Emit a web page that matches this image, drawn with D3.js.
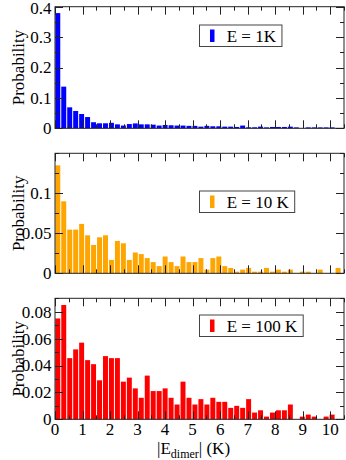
<!DOCTYPE html>
<html>
<head>
<meta charset="utf-8">
<script src="https://cdn.jsdelivr.net/npm/d3@7"></script>
<style>
  body { margin: 0; background: #fff; }
  text { font-family: "Liberation Serif", "Times New Roman", serif; fill: #000; }
</style>
</head>
<body>
<svg id="chart" width="346" height="460"></svg>
<script>
// histogram bins of |E_dimer| (K), 48 bins from 0
const binWidth = 10.4 / 48;

const probE1 = [0.379, 0.137, 0.069, 0.057, 0.047, 0.037, 0.020, 0.0165, 0.0165, 0.018,
  0.013, 0.009, 0.014, 0.016, 0.013, 0.013, 0.012, 0.009, 0.011, 0.010,
  0.009, 0.009, 0.008, 0.008, 0.0055, 0.008, 0.0066, 0.0066, 0.0055, 0.0055,
  0.0044, 0.009, 0.0033, 0.0033, 0.0055, 0.003, 0.0044, 0.0044, 0.0044, 0.0055,
  0.003, 0, 0.003, 0.003, 0.003, 0.003, 0.003, 0];

const probE10 = [0.135, 0.090, 0.0546, 0.0546, 0.0617, 0.0475, 0.0354, 0.045, 0.0475, 0.0167,
  0.0404, 0.0375, 0.0167, 0.026, 0.024, 0.019, 0.014, 0.009, 0.021, 0.014,
  0.009, 0.021, 0.014, 0.014, 0.019, 0.0046, 0.019, 0.021, 0.009, 0.0067,
  0.002, 0.0046, 0.0067, 0.002, 0.002, 0.0067, 0.002, 0.0046, 0.002, 0.0046,
  0, 0.002, 0.002, 0, 0.0046, 0, 0, 0.0067];

const probE100 = [0.075, 0.085, 0.0455, 0.052, 0.057, 0.044, 0.041, 0.029, 0.047, 0.0455,
  0.0455, 0.028, 0.031, 0.023, 0.016, 0.0325, 0.021, 0.021, 0.023, 0.016,
  0.011, 0.028, 0.016, 0.011, 0.015, 0.011, 0.016, 0.013, 0.013, 0.0085,
  0.010, 0.0085, 0.015, 0.005, 0.0067, 0.002, 0.005, 0.0067, 0.0067, 0.011,
  0, 0.002, 0.0035, 0.002, 0, 0.002, 0.0035, 0];

const xTicks = [0, 1, 2, 3, 4, 5, 6, 7, 8, 9, 10];
const yTicksE1 = [0, 0.1, 0.2, 0.3, 0.4];
const yTicksE10 = [0, 0.05, 0.1];
const yTicksE100 = [0, 0.02, 0.04, 0.06, 0.08];
const legendLabels = ["E = 1K", "E = 10 K", "E = 100 K"];

const panels = [
  { data: probE1, color: "#0000ff", yMax: 0.4, ticks: yTicksE1, minor: 0.05, top: 6.7, bottom: 128.3, legendY: 25, label: legendLabels[0] },
  { data: probE10, color: "#ffa500", yMax: 0.15, ticks: yTicksE10, minor: 0.025, top: 153.3, bottom: 273.3, legendY: 191, label: legendLabels[1] },
  { data: probE100, color: "#ff0000", yMax: 0.09, ticks: yTicksE100, minor: 0.01, top: 298.3, bottom: 419.3, legendY: 315, label: legendLabels[2] }
];

const left = 55, right = 344;
const svg = d3.select("#chart");
const x = d3.scaleLinear().domain([0, 10.5]).range([left, right]);
const xMinor = d3.range(0, 10.51, 0.5);
const fmt = v => v === 0 ? "0" : String(+v.toFixed(3));

panels.forEach((p, k) => {
  const y = d3.scaleLinear().domain([0, p.yMax]).range([p.bottom, p.top]);
  const g = svg.append("g");

  // bars
  g.selectAll("rect.bar")
    .data(p.data)
    .join("rect")
    .attr("class", "bar")
    .attr("x", (d, i) => x(i * binWidth) + 0.3)
    .attr("width", (d, i) => x((i + 1) * binWidth) - x(i * binWidth) - 1)
    .attr("y", d => y(d))
    .attr("height", d => p.bottom - y(d))
    .attr("fill", p.color);

  // ticks, all inward on four sides
  const yMinor = d3.range(0, p.yMax + 1e-9, p.minor);
  const isMajorX = v => Math.abs(v - Math.round(v)) < 1e-6;
  const isMajorY = v => p.ticks.some(t => Math.abs(t - v) < 1e-9);
  const tk = g.append("g").attr("stroke", "#222").attr("stroke-width", 1);
  xMinor.forEach(v => {
    const len = isMajorX(v) ? 8 : 4;
    const xx = Math.round(x(v)) + 0.5;
    tk.append("line").attr("x1", xx).attr("x2", xx).attr("y1", p.bottom).attr("y2", p.bottom - len);
    tk.append("line").attr("x1", xx).attr("x2", xx).attr("y1", p.top).attr("y2", p.top + len);
  });
  yMinor.forEach(v => {
    const len = isMajorY(v) ? 8 : 4;
    const yy = Math.round(y(v)) + 0.5;
    tk.append("line").attr("x1", left).attr("x2", left + len).attr("y1", yy).attr("y2", yy);
    tk.append("line").attr("x1", right).attr("x2", right - len).attr("y1", yy).attr("y2", yy);
  });

  // frame
  g.append("rect")
    .attr("x", left).attr("y", p.top)
    .attr("width", right - left).attr("height", p.bottom - p.top)
    .attr("fill", "none").attr("stroke", "#222").attr("stroke-width", 1);

  // y tick labels
  g.selectAll("text.ytl")
    .data(p.ticks)
    .join("text")
    .attr("class", "ytl")
    .attr("x", 51.5)
    .attr("y", d => Math.max(y(d), 8))
    .attr("dy", "0.35em")
    .attr("text-anchor", "end")
    .attr("font-size", 17)
    .text(fmt);

  // y axis title
  g.append("text")
    .attr("transform", `translate(24,${(p.top + p.bottom) / 2}) rotate(-90)`)
    .attr("text-anchor", "middle")
    .attr("font-size", 17)
    .text("Probability");

  // legend
  const lg = g.append("g");
  const box = lg.append("rect")
    .attr("x", 199.5).attr("y", p.legendY)
    .attr("height", 21.5)
    .attr("fill", "#fff").attr("stroke", "#444").attr("stroke-width", 1);
  lg.append("rect")
    .attr("x", 210).attr("y", p.legendY + 4.5)
    .attr("width", 4.5).attr("height", 12.5)
    .attr("fill", p.color);
  const lt = lg.append("text")
    .attr("x", 226.7).attr("y", p.legendY + 16.5)
    .attr("font-size", 17)
    .text(p.label);
  box.attr("width", 226.7 + lt.node().getComputedTextLength() + 6 - 199.5);

  // x tick labels on the bottom panel only
  if (k === panels.length - 1) {
    g.selectAll("text.xtl")
      .data(xTicks)
      .join("text")
      .attr("class", "xtl")
      .attr("x", d => x(d))
      .attr("y", p.bottom + 15.5)
      .attr("text-anchor", "middle")
      .attr("font-size", 17)
      .text(d => d);

    const xl = g.append("text")
      .attr("x", 157)
      .attr("y", 454)
      .attr("font-size", 17);
    xl.append("tspan").text("|E");
    xl.append("tspan").attr("font-size", 12).attr("dy", 3.5).text("dimer");
    xl.append("tspan").attr("dy", -3.5).text("| (K)");
  }
});
</script>
</body>
</html>
